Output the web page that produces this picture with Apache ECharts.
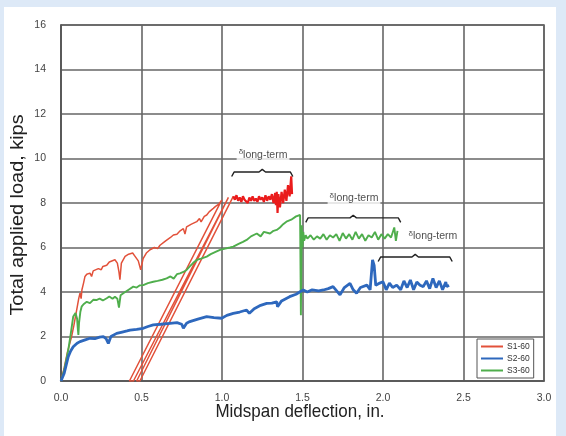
<!DOCTYPE html>
<html><head><meta charset="utf-8">
<script src="https://cdn.jsdelivr.net/npm/echarts@6/dist/echarts.min.js"></script>
<style>html,body{margin:0;padding:0;background:#fff;overflow:hidden}#c{width:566px;height:436px}</style>
</head><body><div id="c"></div>
<script>
// ---- data (deflection in., load kips) ----
const seriesNames = ['S1-60', 'S2-60', 'S3-60'];
const xTicks = [0, 0.5, 1.0, 1.5, 2.0, 2.5, 3.0];
const yTicks = [0, 2, 4, 6, 8, 10, 12, 14, 16];

const s1Load = [[0,0],[0.02,0.6],[0.04,1.3],[0.066,2.0],[0.08,2.5],[0.09,2.9],[0.1,3.3],[0.11,3.7],[0.118,3.95],[0.125,3.7],[0.13,4.1],[0.14,4.4],[0.149,4.7],[0.16,4.8],[0.18,4.85],[0.19,4.7],[0.2,4.95],[0.232,5.05],[0.25,5.0],[0.26,5.15],[0.284,5.2],[0.30,5.35],[0.335,5.45],[0.35,5.3],[0.36,4.9],[0.366,4.55],[0.375,5.3],[0.398,5.6],[0.42,5.7],[0.445,5.75],[0.46,5.6],[0.48,5.4],[0.495,5.0],[0.51,5.5],[0.53,5.75],[0.553,5.9],[0.58,6.0],[0.6,5.95],[0.615,6.1],[0.65,6.3],[0.68,6.45],[0.698,6.56],[0.72,6.6],[0.74,6.75],[0.76,6.85],[0.77,6.6],[0.78,6.93],[0.81,7.05],[0.843,7.16],[0.86,7.3],[0.87,7.15],[0.89,7.4],[0.905,7.46],[0.92,7.6],[0.946,7.76],[0.96,7.85],[0.98,7.95],[0.998,8.13],[1.01,8.2],
  [0.425,0],[0.45,0],[1.04,8.25],[0.47,0],[0.49,0],[1.07,8.3]];
const s1Sustained = [[1.07,8.3],[1.08,8.15],[1.09,8.35],[1.10,8.1],[1.11,8.25],[1.12,8.05],[1.13,8.3],[1.14,8.15],[1.15,8.2],[1.16,8.0],[1.17,8.25],[1.18,8.1],[1.19,8.3],[1.20,8.1],[1.21,8.2],[1.22,8.05],[1.23,8.3],[1.24,8.15],[1.25,8.25],[1.26,8.05],[1.27,8.35],[1.28,8.1],[1.29,8.3],[1.30,8.15],[1.31,8.4],[1.32,8.0],[1.33,8.45],[1.335,7.9],[1.34,8.5],[1.345,7.55],[1.35,8.4],[1.36,7.8],[1.37,8.5],[1.38,8.0],[1.39,8.6],[1.40,8.1],[1.41,8.8],[1.42,8.3],[1.43,9.2],[1.435,8.4]];
const s2 = [[0,0],[0.02,0.35],[0.045,1.09],[0.06,1.35],[0.076,1.54],[0.1,1.7],[0.118,1.77],[0.15,1.85],[0.18,1.92],[0.21,1.9],[0.24,1.97],[0.263,1.99],[0.28,1.9],[0.294,1.69],[0.31,2.0],[0.346,2.14],[0.38,2.2],[0.41,2.25],[0.429,2.29],[0.47,2.32],[0.511,2.37],[0.54,2.45],[0.573,2.52],[0.62,2.55],[0.677,2.59],[0.72,2.62],[0.75,2.55],[0.76,2.37],[0.78,2.6],[0.8,2.67],[0.85,2.78],[0.905,2.89],[0.95,2.85],[0.998,2.82],[1.03,2.95],[1.07,3.04],[1.11,3.1],[1.153,3.19],[1.17,3.04],[1.2,3.25],[1.24,3.4],[1.278,3.49],[1.31,3.5],[1.34,3.56],[1.345,3.34],[1.37,3.6],[1.42,3.79],[1.46,3.9],[1.485,4.01],[1.505,4.09],[1.53,4.0],[1.56,4.1],[1.6,4.05],[1.63,4.09],[1.66,4.15],[1.69,4.24],[1.733,3.87],[1.76,4.2],[1.795,4.39],[1.815,4.1],[1.836,3.94],[1.86,4.2],[1.9,4.31],[1.92,4.1],[1.935,5.44],[1.945,5.2],[1.955,4.3],[1.965,4.24],[1.98,4.4],[2.0,4.46],[2.02,4.1],[2.04,4.4],[2.06,4.2],[2.085,4.31],[2.11,4.1],[2.13,4.5],[2.15,4.2],[2.17,4.54],[2.19,4.1],[2.21,4.45],[2.23,4.3],[2.25,4.24],[2.27,4.5],[2.29,4.15],[2.31,4.61],[2.33,4.2],[2.35,4.5],[2.37,4.1],[2.39,4.45],[2.396,4.24],[2.41,4.3]];
const s3 = [[0,0],[0.02,0.5],[0.045,1.39],[0.06,2.1],[0.076,2.9],[0.09,3.05],[0.1,2.8],[0.105,2.3],[0.108,2.07],[0.112,2.6],[0.12,3.1],[0.128,3.34],[0.14,3.45],[0.16,3.56],[0.18,3.5],[0.2,3.65],[0.22,3.64],[0.24,3.7],[0.26,3.62],[0.284,3.72],[0.3,3.8],[0.32,3.7],[0.335,3.79],[0.35,3.7],[0.36,3.3],[0.37,3.85],[0.387,3.94],[0.42,4.1],[0.449,4.24],[0.47,4.2],[0.49,4.3],[0.511,4.31],[0.54,4.4],[0.573,4.46],[0.6,4.5],[0.63,4.55],[0.656,4.61],[0.68,4.7],[0.70,4.6],[0.72,4.8],[0.739,4.84],[0.76,4.9],[0.78,4.99],[0.8,5.15],[0.82,5.3],[0.843,5.44],[0.87,5.5],[0.905,5.59],[0.93,5.7],[0.96,5.8],[0.988,5.89],[1.02,5.95],[1.05,6.0],[1.07,6.04],[1.1,6.15],[1.13,6.25],[1.153,6.34],[1.18,6.5],[1.216,6.63],[1.24,6.5],[1.26,6.7],[1.298,6.63],[1.32,6.75],[1.34,6.79],[1.36,6.9],[1.38,7.05],[1.40,7.16],[1.43,7.25],[1.46,7.4],[1.485,7.46],
  [1.49,2.95],[1.495,7.0],[1.5,6.0],[1.505,6.7],[1.51,6.3],[1.52,6.55],[1.53,6.4],[1.55,6.55],[1.57,6.35],[1.59,6.5],[1.61,6.4],[1.63,6.6],[1.65,6.35],[1.67,6.55],[1.69,6.45],[1.71,6.6],[1.73,6.3],[1.75,6.65],[1.77,6.4],[1.79,6.6],[1.81,6.35],[1.83,6.7],[1.85,6.4],[1.87,6.6],[1.89,6.3],[1.91,6.55],[1.93,6.45],[1.95,6.7],[1.97,6.35],[1.99,6.6],[2.01,6.4],[2.03,6.6],[2.05,6.45],[2.07,6.9],[2.08,6.3],[2.09,6.75]];

// annotation anchors (data coords): bracket [xStart, xEnd, y], label [x, y]
const bracketSpans = [[1.06, 1.44, 9.39], [1.52, 2.11, 7.33], [1.97, 2.43, 5.57]];
const labelAnchors = [[1.255, 10.15], [1.82, 8.2], [2.31, 6.5]];

// ---- chart ----
const chart = echarts.init(document.getElementById('c'), null, {renderer: 'canvas', width: 566, height: 436});
const FONT = 'Liberation Sans, Arial, sans-serif';
function bracketPath(b) {
  const [x0, x1, y] = b, xc = (x0 + x1) / 2;
  return [[x0, y - 0.2], [x0 + 0.015, y], [xc - 0.02, y], [xc, y + 0.12], [xc + 0.02, y], [x1 - 0.015, y], [x1, y - 0.2]];
}
const series = [
  {name: seriesNames[0], type: 'line', data: s1Load, showSymbol: false, symbol: 'none', lineStyle: {color: '#e2513a', width: 1.5}, itemStyle: {color: '#e2513a'}, z: 3},
  {name: seriesNames[0], type: 'line', data: s1Sustained, showSymbol: false, symbol: 'none', lineStyle: {color: '#ea1c1c', width: 2.2}, itemStyle: {color: '#e2513a'}, z: 3},
  {name: seriesNames[1], type: 'line', data: s2, showSymbol: false, symbol: 'none', lineStyle: {color: '#2e68bd', width: 2.8}, itemStyle: {color: '#2e68bd'}, z: 4},
  {name: seriesNames[2], type: 'line', data: s3, showSymbol: false, symbol: 'none', lineStyle: {color: '#4fae4c', width: 1.9}, itemStyle: {color: '#4fae4c'}, z: 3}
];
bracketSpans.forEach(b => series.push({type: 'line', data: bracketPath(b), showSymbol: false, symbol: 'none', silent: true, lineStyle: {color: '#222', width: 1.4}, z: 5}));
labelAnchors.forEach(p => series.push({
  type: 'scatter', data: [p], symbolSize: 0, silent: true, z: 6,
  label: {show: true, position: 'inside', formatter: '{d|δ}{s|long-term}', backgroundColor: '#fff', padding: [1, 2],
    rich: {d: {fontSize: 8, fontFamily: FONT, color: '#222', padding: [0, 0, 6, 0]}, s: {fontSize: 10.5, fontFamily: FONT, color: '#222'}}}
}));

chart.setOption({
  animation: false,
  backgroundColor: '#ffffff',
  graphic: [
    {type: 'rect', left: 0, top: 0, shape: {width: 566, height: 7}, style: {fill: '#dde9f7'}, z: -10, silent: true},
    {type: 'rect', left: 0, top: 0, shape: {width: 4, height: 436}, style: {fill: '#dde9f7'}, z: -10, silent: true},
    {type: 'rect', left: 556, top: 0, shape: {width: 10, height: 436}, style: {fill: '#dde9f7'}, z: -10, silent: true},
    {type: 'rect', left: 4, top: 415, shape: {width: 552, height: 21}, style: {fill: '#ffffff'}, z: -9, silent: true},
    {type: 'text', x: 300, y: 412, style: {text: 'Midspan deflection, in.', font: '17px ' + FONT, fill: '#222', align: 'center', verticalAlign: 'middle'}, scaleY: 1.12},
    {type: 'text', x: 18, y: 215, rotation: Math.PI / 2, style: {text: 'Total applied load, kips', font: '17px ' + FONT, fill: '#222', align: 'center', verticalAlign: 'middle'}, scaleX: 1.17, scaleY: 1.05}
  ],
  grid: {left: 61, right: 22, top: 25, bottom: 55, show: true, borderColor: '#555', borderWidth: 1.5},
  legend: {
    data: seriesNames, orient: 'vertical', left: 477, top: 339, itemWidth: 22, itemHeight: 2, itemGap: 3, icon: 'rect',
    backgroundColor: '#fff', borderColor: '#555', borderWidth: 1, padding: [3, 4, 3, 4],
    textStyle: {fontSize: 8.5, fontFamily: FONT, color: '#333', padding: [0, 0, 0, -1]}
  },
  xAxis: {type: 'value', min: xTicks[0], max: xTicks[xTicks.length - 1], interval: 0.5,
    axisLine: {show: true, onZero: false, lineStyle: {color: '#555', width: 1.5}}, axisTick: {show: false},
    axisLabel: {formatter: v => v.toFixed(1), fontSize: 10.5, fontFamily: FONT, color: '#444', margin: 12},
    splitLine: {show: true, lineStyle: {color: '#666', width: 1.6}}},
  yAxis: {type: 'value', min: yTicks[0], max: yTicks[yTicks.length - 1], interval: 2,
    axisLine: {show: true, onZero: false, lineStyle: {color: '#555', width: 1.5}}, axisTick: {show: false},
    axisLabel: {fontSize: 10.5, fontFamily: FONT, color: '#444', margin: 15},
    splitLine: {show: true, lineStyle: {color: '#666', width: 1.6}}},
  series: series
});
</script></body></html>
